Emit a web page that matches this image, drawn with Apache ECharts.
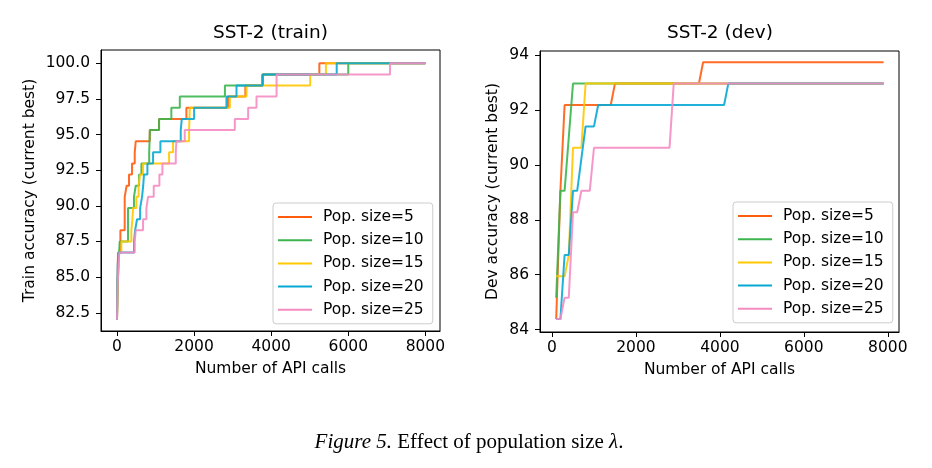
<!DOCTYPE html>
<html><head><meta charset="utf-8">
<script src="https://cdn.jsdelivr.net/npm/echarts@6/dist/echarts.min.js"></script>
<style>html,body{margin:0;padding:0;background:#fff}#c{width:932px;height:468px}</style>
</head><body><div id="c"></div>
<script>
// ---- data ----
const seriesNames = ['Pop. size=5', 'Pop. size=10', 'Pop. size=15', 'Pop. size=20', 'Pop. size=25'];
const colors = ['#ff5c0e', '#3cb54f', '#ffc800', '#08a8d4', '#f48cc2'];
const xTicks = [0, 2000, 4000, 6000, 8000];
const trainYTicks = [82.5, 85, 87.5, 90, 92.5, 95, 97.5, 100];
const devYTicks = [84, 86, 88, 90, 92, 94];

// train accuracy (current best): [API calls, accuracy], new level starting at x
const train5 = [[0,82.03],[10,84.38],[27,86.72],[88,88.28],[200,90.63],[250,91.41],[312,92.19],[390,92.97],[460,93.75],[486,94.53],[850,95.31],[1090,96.09],[1800,96.88],[2880,97.66],[3330,98.44],[3770,99.22],[5250,100],[8000,100]];
const train10 = [[0,82.03],[15,84.38],[40,85.94],[70,87.5],[286,89.84],[440,90.63],[486,91.41],[573,92.19],[633,92.97],[835,93.75],[845,94.53],[855,95.31],[1092,96.09],[1410,96.88],[1630,97.66],[2800,98.44],[3780,99.22],[6000,100],[8000,100]];
const train15 = [[0,82.03],[20,84.38],[50,86.72],[113,87.5],[373,88.28],[400,89.06],[416,89.84],[502,90.63],[560,91.41],[600,92.19],[676,92.97],[1351,93.75],[1454,94.53],[1870,95.31],[1880,96.09],[1888,96.88],[2927,97.66],[3360,98.44],[5012,99.22],[5420,100],[8000,100]];
const train20 = [[0,82.03],[10,84.38],[20,85.94],[45,86.72],[442,87.5],[470,88.28],[520,89.06],[600,89.84],[650,90.63],[680,91.41],[700,92.19],[789,92.97],[936,93.75],[1126,94.53],[1654,95.31],[1680,96.09],[2001,96.88],[2840,97.66],[3100,98.44],[3780,99.22],[5700,100],[8000,100]];
const train25 = [[0,82.03],[15,84.38],[40,85.94],[60,86.72],[460,87.5],[486,88.28],[676,89.06],[763,89.84],[806,90.63],[953,91.41],[1100,92.19],[1178,92.97],[1525,93.75],[1542,94.53],[1758,95.31],[3057,96.09],[3403,96.88],[3619,97.66],[4140,99.22],[7082,100],[8000,100]];

// dev accuracy (current best): [API calls, accuracy]
const dev5 = [[100,84.38],[200,89.06],[300,92.19],[1400,92.19],[1500,92.97],[3500,92.97],[3600,93.75],[7900,93.75]];
const dev10 = [[100,85.16],[200,89.06],[300,89.06],[500,92.97],[7900,92.97]];
const dev15 = [[100,85.94],[300,85.94],[400,86.72],[500,90.63],[700,90.63],[800,92.97],[7900,92.97]];
const dev20 = [[100,84.38],[200,84.38],[300,86.72],[400,86.72],[500,89.06],[600,89.06],[800,91.41],[1000,91.41],[1100,92.19],[4100,92.19],[4200,92.97],[7900,92.97]];
const dev25 = [[100,84.38],[200,84.38],[300,85.16],[400,85.16],[500,88.28],[600,88.28],[700,89.06],[900,89.06],[1000,90.63],[2800,90.63],[2900,92.97],[7900,92.97]];

const trainData = [train5, train10, train15, train20, train25];
const devData = [dev5, dev10, dev15, dev20, dev25];

// ---- chart ----
const FF = "'DejaVu Sans', sans-serif";
const FS = 15.5;
const chart = echarts.init(document.getElementById('c'), null, {renderer: 'canvas'});

function xAxisCfg(gi, min, max) {
  return {
    type: 'value', gridIndex: gi, min: min, max: max,
    name: 'Number of API calls', nameLocation: 'middle', nameGap: 30,
    nameTextStyle: {color: '#000', fontSize: FS, fontFamily: FF},
    axisLine: {show: true, onZero: false, lineStyle: {color: '#000', width: 1}},
    axisTick: {show: true, customValues: xTicks, length: 5, lineStyle: {color: '#000', width: 1}},
    axisLabel: {customValues: xTicks, margin: 8, color: '#000', fontSize: FS, fontFamily: FF, formatter: v => String(v)},
    splitLine: {show: false}
  };
}
function yAxisCfg(gi, min, max, ticks, name, gap, fmt) {
  return {
    type: 'value', gridIndex: gi, min: min, max: max,
    name: name, nameLocation: 'middle', nameGap: gap, nameRotate: 90,
    nameTextStyle: {color: '#000', fontSize: FS, fontFamily: FF},
    axisLine: {show: true, onZero: false, lineStyle: {color: '#000', width: 1}},
    axisTick: {show: true, customValues: ticks, length: 5, lineStyle: {color: '#000', width: 1}},
    axisLabel: {customValues: ticks, margin: 11, color: '#000', fontSize: FS, fontFamily: FF, formatter: fmt},
    splitLine: {show: false}
  };
}
function legendCfg(left, top) {
  return {
    left: left, top: top, orient: 'vertical', selectedMode: false,
    data: seriesNames,
    icon: 'path://M0,0H34V2H0Z M40,0V2',
    itemWidth: 40, itemHeight: 2.4, itemGap: 7.2,
    padding: [6, 9, 6, 5],
    borderColor: '#cccccc', borderWidth: 1, borderRadius: 3,
    backgroundColor: 'rgba(255,255,255,0.8)',
    textStyle: {color: '#000', fontSize: FS, fontFamily: FF, lineHeight: 16}
  };
}

const series = [];
trainData.forEach((d, i) => series.push({
  name: seriesNames[i], type: 'line', xAxisIndex: 0, yAxisIndex: 0, data: d,
  step: 'end', symbol: 'none', showSymbol: false, color: colors[i],
  lineStyle: {width: 2, color: colors[i], opacity: 0.9}, emphasis: {disabled: true}
}));
devData.forEach((d, i) => series.push({
  name: seriesNames[i], type: 'line', xAxisIndex: 1, yAxisIndex: 1, data: d,
  symbol: 'none', showSymbol: false, color: colors[i],
  lineStyle: {width: 2, color: colors[i], opacity: 0.9}, emphasis: {disabled: true}
}));

chart.setOption({
  animation: false,
  backgroundColor: '#fff',
  grid: [
    {left: 101, top: 50, width: 339, height: 281, show: true, borderColor: '#000', borderWidth: 1, backgroundColor: 'transparent'},
    {left: 540, top: 51, width: 359, height: 281, show: true, borderColor: '#000', borderWidth: 1, backgroundColor: 'transparent'}
  ],
  xAxis: [xAxisCfg(0, -415, 8380), xAxisCfg(1, -286, 8267)],
  yAxis: [
    yAxisCfg(0, 81.22, 100.93, trainYTicks, 'Train accuracy (current best)', 63, v => v.toFixed(1)),
    yAxisCfg(1, 83.91, 94.16, devYTicks, 'Dev accuracy (current best)', 39, v => String(v))
  ],
  legend: [legendCfg(273, 203), legendCfg(733, 202)],
  series: series,
  graphic: [
    {type: 'text', x: 270.5, y: 33, style: {text: 'SST-2 (train)', fontSize: 18.5, fontFamily: FF, fill: '#000', align: 'center', verticalAlign: 'middle'}},
    {type: 'text', x: 720, y: 33, style: {text: 'SST-2 (dev)', fontSize: 18.5, fontFamily: FF, fill: '#000', align: 'center', verticalAlign: 'middle'}},
    {type: 'text', x: 469, y: 442, style: {
      text: '{i|Figure 5.} Effect of population size {i|λ}.',
      fontSize: 21, fontFamily: "'Liberation Serif', serif", fill: '#000', align: 'center', verticalAlign: 'middle',
      rich: {i: {fontStyle: 'italic', fontSize: 21, fontFamily: "'Liberation Serif', serif", fill: '#000'}}
    }}
  ]
});
</script>
</body></html>
